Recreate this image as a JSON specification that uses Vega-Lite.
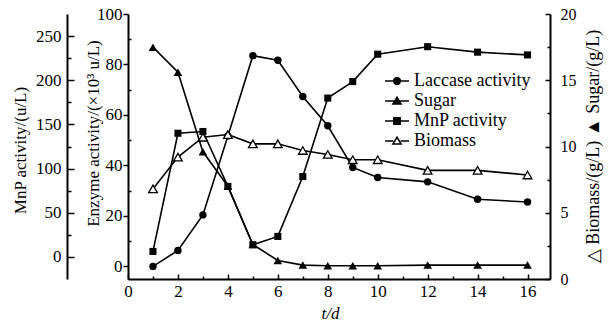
{
  "$schema": "https://vega.github.io/schema/vega-lite/v6.json",
  "width": 422,
  "height": 265,
  "autosize": {"type": "none"},
  "padding": {"left": 128, "top": 14, "right": 58, "bottom": 42},
  "background": "white",
  "config": {
    "view": {"stroke": null},
    "font": "Liberation Serif",
    "axis": {
      "domainColor": "black", "domainWidth": 2, "tickColor": "black", "tickWidth": 1.5,
      "labelColor": "black", "titleColor": "black", "labelFont": "Liberation Serif", "titleFont": "Liberation Serif",
      "grid": false, "labelFontSize": 17, "labelFontWeight": "normal", "titleFontSize": 17, "titleFontWeight": "normal",
      "labelOverlap": false, "labelFlush": false, "titleBaseline": "middle"
    }
  },
  "data": {"values": [
    {"t": 1, "s": "Laccase activity", "v": 0}, {"t": 2, "s": "Laccase activity", "v": 6.3}, {"t": 3, "s": "Laccase activity", "v": 20.4},
    {"t": 4, "s": "Laccase activity", "v": 51.7}, {"t": 5, "s": "Laccase activity", "v": 83.5}, {"t": 6, "s": "Laccase activity", "v": 81.7},
    {"t": 7, "s": "Laccase activity", "v": 67.3}, {"t": 8, "s": "Laccase activity", "v": 55.7}, {"t": 9, "s": "Laccase activity", "v": 39.2},
    {"t": 10, "s": "Laccase activity", "v": 35.2}, {"t": 12, "s": "Laccase activity", "v": 33.5}, {"t": 14, "s": "Laccase activity", "v": 26.6},
    {"t": 16, "s": "Laccase activity", "v": 25.5},
    {"t": 1, "s": "MnP activity", "v": 6.2}, {"t": 2, "s": "MnP activity", "v": 140}, {"t": 3, "s": "MnP activity", "v": 142},
    {"t": 4, "s": "MnP activity", "v": 79.8}, {"t": 5, "s": "MnP activity", "v": 13.8}, {"t": 6, "s": "MnP activity", "v": 23.2},
    {"t": 7, "s": "MnP activity", "v": 91}, {"t": 8, "s": "MnP activity", "v": 179.8}, {"t": 9, "s": "MnP activity", "v": 198.5},
    {"t": 10, "s": "MnP activity", "v": 229.5}, {"t": 12, "s": "MnP activity", "v": 238}, {"t": 14, "s": "MnP activity", "v": 231.8},
    {"t": 16, "s": "MnP activity", "v": 228.7},
    {"t": 1, "s": "Sugar", "v": 17.5}, {"t": 2, "s": "Sugar", "v": 15.6}, {"t": 3, "s": "Sugar", "v": 9.6},
    {"t": 4, "s": "Sugar", "v": 7.0}, {"t": 5, "s": "Sugar", "v": 2.6}, {"t": 6, "s": "Sugar", "v": 1.4},
    {"t": 7, "s": "Sugar", "v": 1.05}, {"t": 8, "s": "Sugar", "v": 1.0}, {"t": 9, "s": "Sugar", "v": 1.0},
    {"t": 10, "s": "Sugar", "v": 1.0}, {"t": 12, "s": "Sugar", "v": 1.05}, {"t": 14, "s": "Sugar", "v": 1.05},
    {"t": 16, "s": "Sugar", "v": 1.05},
    {"t": 1, "s": "Biomass", "v": 6.8}, {"t": 2, "s": "Biomass", "v": 9.2}, {"t": 3, "s": "Biomass", "v": 10.7},
    {"t": 4, "s": "Biomass", "v": 10.9}, {"t": 5, "s": "Biomass", "v": 10.2}, {"t": 6, "s": "Biomass", "v": 10.2},
    {"t": 7, "s": "Biomass", "v": 9.7}, {"t": 8, "s": "Biomass", "v": 9.4}, {"t": 9, "s": "Biomass", "v": 9.0},
    {"t": 10, "s": "Biomass", "v": 9.0}, {"t": 12, "s": "Biomass", "v": 8.2}, {"t": 14, "s": "Biomass", "v": 8.2},
    {"t": 16, "s": "Biomass", "v": 7.85}
  ]},
  "encoding": {
    "x": {
      "field": "t", "type": "quantitative",
      "scale": {"domain": [0, 16.9], "nice": false, "zero": false},
      "axis": {
        "title": "t/d", "titleFontStyle": "italic", "titleX": 202, "titleY": 34,
        "values": [0,1,2,3,4,5,6,7,8,9,10,11,12,13,14,15,16],
        "labelExpr": "datum.value % 2 === 0 ? datum.label : ''",
        "tickSize": {"condition": {"test": "datum.value % 2 === 0", "value": -5}, "value": -3},
        "labelFont": "Liberation Serif", "labelFontSize": 17, "labelFontWeight": "normal",
        "labelPadding": 9
      }
    }
  },
  "layer": [
    {
      "transform": [{"filter": "datum.s === 'Laccase activity'"}],
      "encoding": {
        "y": {
          "field": "v", "type": "quantitative",
          "scale": {"domain": [-5, 100], "nice": false, "zero": false},
          "axis": {
            "orient": "left", "title": "Enzyme activity/(×10³ u/L)", "titleX": -35, "titleY": 119,
            "values": [0,10,20,30,40,50,60,70,80,90,100],
            "labelExpr": "datum.value % 20 === 0 ? datum.label : ''",
            "tickSize": {"condition": {"test": "datum.value % 20 === 0", "value": 5}, "value": -3},
            "labelFont": "Liberation Serif", "labelFontSize": 17, "labelFontWeight": "normal",
            "labelPadding": 1
          }
        }
      },
      "layer": [
        {"mark": {"type": "line", "color": "black", "strokeWidth": 1.6}},
        {"mark": {"type": "point", "shape": "circle", "filled": true, "color": "black", "opacity": 1, "size": 55}}
      ]
    },
    {
      "transform": [{"filter": "datum.s === 'MnP activity'"}],
      "encoding": {
        "y": {
          "field": "v", "type": "quantitative",
          "scale": {"domain": [-25, 275], "nice": false, "zero": false},
          "axis": {
            "orient": "left", "offset": 61, "title": "MnP activity/(u/L)", "titleX": -47, "titleY": 136,
            "values": [0,25,50,75,100,125,150,175,200,225,250],
            "labelExpr": "datum.value % 50 === 0 ? datum.label : ''",
            "tickSize": {"condition": {"test": "datum.value % 50 === 0", "value": -7}, "value": -4},
            "labelFont": "Liberation Serif", "labelFontSize": 17, "labelFontWeight": "normal",
            "labelPadding": 13
          }
        }
      },
      "layer": [
        {"mark": {"type": "line", "color": "black", "strokeWidth": 1.6}},
        {"mark": {"type": "point", "shape": "square", "filled": true, "color": "black", "opacity": 1, "size": 50}}
      ]
    },
    {
      "transform": [{"filter": "datum.s === 'Sugar' || datum.s === 'Biomass'"}],
      "encoding": {
        "y": {
          "field": "v", "type": "quantitative",
          "scale": {"domain": [0, 20], "nice": false, "zero": false},
          "axis": {
            "orient": "right", "title": "△ Biomass/(g/L) ▲ Sugar/(g/L)", "titleAngle": 270,
            "titleFontSize": 18, "titleX": 43, "titleY": 132,
            "values": [0,2.5,5,7.5,10,12.5,15,17.5,20],
            "labelExpr": "datum.value % 5 === 0 ? datum.label : ''",
            "tickSize": {"condition": {"test": "datum.value % 5 === 0", "value": -5}, "value": -3},
            "labelFont": "Liberation Serif", "labelFontSize": 16, "labelFontWeight": "normal",
            "labelPadding": 15
          }
        }
      },
      "layer": [
        {"mark": {"type": "line", "color": "black", "strokeWidth": 1.6}, "encoding": {"detail": {"field": "s", "type": "nominal"}}},
        {"transform": [{"filter": "datum.s === 'Sugar'"}], "mark": {"type": "point", "shape": "triangle-up", "filled": true, "color": "black", "opacity": 1, "size": 75}},
        {"transform": [{"filter": "datum.s === 'Biomass'"}], "mark": {"type": "point", "shape": "triangle-up", "filled": true, "fill": "white", "stroke": "black", "strokeWidth": 1.3, "opacity": 1, "size": 75}}
      ]
    },
    {
      "mark": {"type": "point", "filled": true, "opacity": 0},
      "encoding": {
        "shape": {
          "field": "s", "type": "nominal",
          "scale": {
            "domain": ["Laccase activity", "Sugar", "MnP activity", "Biomass"],
            "range": [
              "M-1.6,0H1.6M-0.45,0A0.45,0.45,0,1,0,0.45,0A0.45,0.45,0,1,0,-0.45,0Z",
              "M-1.6,0H1.6M0,-0.5L0.55,0.4L-0.55,0.4Z",
              "M-1.6,0H1.6M-0.42,-0.42H0.42V0.42H-0.42Z",
              "M-1.6,0H-0.5M0.5,0H1.6M0,-0.5L0.55,0.4L-0.55,0.4Z"
            ]
          },
          "legend": {
            "orient": "none", "legendX": 260, "legendY": 58, "title": null, "padding": 0,
            "symbolSize": 225, "symbolOpacity": 1, "symbolStrokeWidth": 1.5,
            "labelFont": "Liberation Serif", "labelFontSize": 18, "labelFontWeight": "normal", "labelColor": "black",
            "labelOffset": 8, "rowPadding": 2, "labelLimit": 300
          }
        },
        "fill": {
          "field": "s", "type": "nominal",
          "scale": {
            "domain": ["Laccase activity", "Sugar", "MnP activity", "Biomass"],
            "range": ["black", "black", "black", "white"]
          },
          "legend": {
            "orient": "none", "legendX": 260, "legendY": 58, "title": null, "padding": 0,
            "symbolSize": 225, "symbolOpacity": 1, "symbolStrokeWidth": 1.5,
            "labelFont": "Liberation Serif", "labelFontSize": 18, "labelFontWeight": "normal", "labelColor": "black",
            "labelOffset": 8, "rowPadding": 2, "labelLimit": 300
          }
        },
        "stroke": {
          "field": "s", "type": "nominal",
          "scale": {
            "domain": ["Laccase activity", "Sugar", "MnP activity", "Biomass"],
            "range": ["black", "black", "black", "black"]
          },
          "legend": {
            "orient": "none", "legendX": 260, "legendY": 58, "title": null, "padding": 0,
            "symbolSize": 225, "symbolOpacity": 1, "symbolStrokeWidth": 1.5,
            "labelFont": "Liberation Serif", "labelFontSize": 18, "labelFontWeight": "normal", "labelColor": "black",
            "labelOffset": 8, "rowPadding": 2, "labelLimit": 300
          }
        }
      }
    }
  ],
  "resolve": {"scale": {"y": "independent"}}
}
